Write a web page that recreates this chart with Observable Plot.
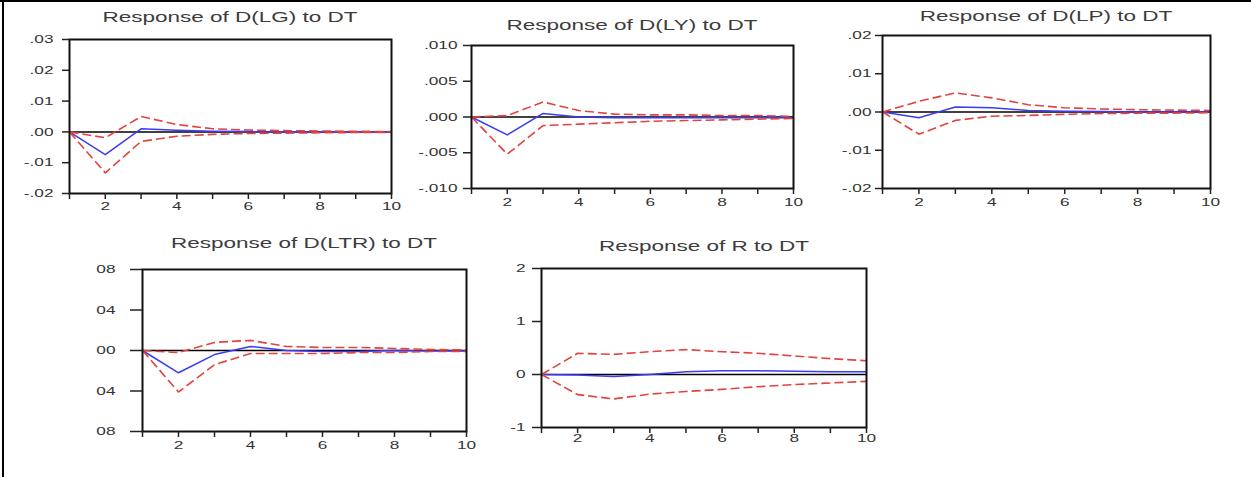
<!DOCTYPE html>
<html>
<head>
<meta charset="utf-8">
<script src="https://cdn.jsdelivr.net/npm/d3@7"></script>
<script src="https://cdn.jsdelivr.net/npm/@observablehq/plot@0.6"></script>
<style>
  body { margin: 0; background: #fff; }
  #page { position: relative; width: 1251px; height: 477px; overflow: hidden; background: #fff; }
  .title {
    position: absolute; white-space: nowrap;
    font-family: "Liberation Sans", Arial, sans-serif; font-size: 15px; line-height: 15px;
    color: #3c3c3c;
    transform: translateX(-50%) scaleX(1.5);
  }
  .holder { position: absolute; }
  .border-top { position: absolute; left: 0; top: 0; width: 1251px; height: 2px; background: #000; }
  .border-left { position: absolute; left: 2px; top: 0; width: 2px; height: 477px; background: #000; }
</style>
</head>
<body>
<div id="page">
  <div class="border-top"></div>
  <div class="border-left"></div>
</div>
<script>
// Impulse responses to a DT shock, periods 1-10, with ±2 S.E. bands
const periods = [1, 2, 3, 4, 5, 6, 7, 8, 9, 10];
const evenPeriods = [2, 4, 6, 8, 10];

const lgResp  = [0, -0.0074, 0.0010, 0.0005, 0.0002, 0.0001, 0.0000, 0.0000, 0.0000, 0.0000];
const lgUpper = [0, -0.0019, 0.0050, 0.0024, 0.0010, 0.0006, 0.0004, 0.0003, 0.0002, 0.0001];
const lgLower = [0, -0.0133, -0.0031, -0.0014, -0.0008, -0.0005, -0.0004, -0.0003, -0.0002, -0.0002];

const lyResp  = [0, -0.0025, 0.0005, 0.0000, -0.0001, -0.0001, -0.0001, -0.0001, -0.0001, -0.0001];
const lyUpper = [0, 0.0002, 0.0021, 0.0009, 0.0004, 0.0003, 0.0003, 0.0002, 0.0002, 0.0001];
const lyLower = [0, -0.0052, -0.0012, -0.0010, -0.0008, -0.0006, -0.0005, -0.0004, -0.0003, -0.0002];

const lpResp  = [0, -0.0015, 0.0013, 0.0011, 0.0004, 0.0002, 0.0001, 0.0000, 0.0000, 0.0000];
const lpUpper = [0, 0.0028, 0.0050, 0.0037, 0.0019, 0.0011, 0.0008, 0.0006, 0.0005, 0.0004];
const lpLower = [0, -0.0058, -0.0022, -0.0011, -0.0009, -0.0006, -0.0004, -0.0003, -0.0003, -0.0002];

const ltrResp  = [0, -0.022, -0.004, 0.004, 0.000, -0.001, -0.001, 0.000, -0.0005, -0.0005];
const ltrUpper = [0, -0.002, 0.008, 0.010, 0.004, 0.003, 0.003, 0.002, 0.001, 0.0005];
const ltrLower = [0, -0.041, -0.014, -0.003, -0.003, -0.003, -0.002, -0.002, -0.001, -0.001];

const rResp  = [0, -0.01, -0.04, 0.00, 0.05, 0.07, 0.07, 0.06, 0.05, 0.05];
const rUpper = [0, 0.40, 0.38, 0.43, 0.47, 0.43, 0.40, 0.35, 0.30, 0.26];
const rLower = [0, -0.38, -0.46, -0.37, -0.32, -0.28, -0.23, -0.19, -0.16, -0.13];

// Y-axis ticks and their printed labels
const lgTicks  = [-0.02, -0.01, 0, 0.01, 0.02, 0.03];
const lgLabels = ["-.02", "-.01", ".00", ".01", ".02", ".03"];
const lyTicks  = [-0.010, -0.005, 0, 0.005, 0.010];
const lyLabels = ["-.010", "-.005", ".000", ".005", ".010"];
const lpTicks  = [-0.02, -0.01, 0, 0.01, 0.02];
const lpLabels = ["-.02", "-.01", ".00", ".01", ".02"];
const ltrTicks  = [-0.08, -0.04, 0, 0.04, 0.08];
const ltrLabels = ["08", "04", "00", "04", "08"];
const rTicks  = [-1, 0, 1, 2];
const rLabels = ["-1", "0", "1", "2"];

const titles = [
  "Response of D(LG) to DT",
  "Response of D(LY) to DT",
  "Response of D(LP) to DT",
  "Response of D(LTR) to DT",
  "Response of R to DT"
];

const FONT = '"Liberation Sans", Arial, sans-serif';
const RED = "#e2433f";
const BLUE = "#3b3bf2";
const STRETCH = 1.5;

const panels = [
  {title: titles[0], resp: lgResp, upper: lgUpper, lower: lgLower, domain: [-0.02, 0.03],
   ticks: lgTicks, labels: lgLabels, box: {L: 69, R: 391, T: 39, B: 193}, yTick: 7, yPad: 9, xPad: 8, titleTop: 9},
  {title: titles[1], resp: lyResp, upper: lyUpper, lower: lyLower, domain: [-0.01, 0.01],
   ticks: lyTicks, labels: lyLabels, box: {L: 471, R: 793, T: 45, B: 188}, yTick: 8, yPad: 6, xPad: 9, titleTop: 17},
  {title: titles[2], resp: lpResp, upper: lpUpper, lower: lpLower, domain: [-0.02, 0.02],
   ticks: lpTicks, labels: lpLabels, box: {L: 882, R: 1210, T: 35, B: 188}, yTick: 7, yPad: 4, xPad: 9, titleTop: 8},
  {title: titles[3], resp: ltrResp, upper: ltrUpper, lower: ltrLower, domain: [-0.08, 0.08],
   ticks: ltrTicks, labels: ltrLabels, box: {L: 142, R: 466, T: 269, B: 431}, yTick: 12, yPad: 15, xPad: 9, titleTop: 235},
  {title: titles[4], resp: rResp, upper: rUpper, lower: rLower, domain: [-1, 2],
   ticks: rTicks, labels: rLabels, box: {L: 541, R: 866, T: 268, B: 427}, yTick: 9, yPad: 7, xPad: 6, titleTop: 238}
];

const page = document.getElementById("page");

function drawPanel(p) {
  const mL = 70, mR = 20, mT = 12, mB = 28;
  const {L, R, T, B} = p.box;
  const labelOf = new Map(p.ticks.map((t, i) => [t, p.labels[i]]));
  const rows = periods.map((x, i) => ({x, resp: p.resp[i], upper: p.upper[i], lower: p.lower[i]}));

  const svg = Plot.plot({
    width: (R - L) + mL + mR,
    height: (B - T) + mT + mB,
    marginLeft: mL, marginRight: mR, marginTop: mT, marginBottom: mB,
    x: {domain: [1, 10]},
    y: {domain: p.domain},
    style: {fontFamily: FONT, fontSize: "11.5px", color: "#333", background: "transparent", overflow: "visible"},
    marks: [
      Plot.ruleY([0], {stroke: "#000", strokeWidth: 1.5}),
      Plot.lineY(rows, {x: "x", y: "resp", stroke: BLUE, strokeWidth: 1.5}),
      Plot.lineY(rows, {x: "x", y: "upper", stroke: RED, strokeWidth: 1.6, strokeDasharray: "9,4", strokeLinecap: "butt"}),
      Plot.lineY(rows, {x: "x", y: "lower", stroke: RED, strokeWidth: 1.6, strokeDasharray: "9,4", strokeLinecap: "butt"}),
      Plot.frame({stroke: "#111", strokeWidth: 2}),
      Plot.axisY(p.ticks, {label: null, tickSize: p.yTick, tickPadding: p.yPad, tickFormat: d => labelOf.get(d),
        stroke: "#222", strokeWidth: 1.5, fill: "#333"}),
      Plot.axisX(periods, {label: null, tickSize: 6, tickFormat: () => "", stroke: "#222", strokeWidth: 1.5}),
      Plot.axisX(evenPeriods, {label: null, tickSize: 0, tickPadding: p.xPad, tickFormat: d => String(d), fill: "#333"})
    ]
  });

  const holder = document.createElement("div");
  holder.className = "holder";
  holder.style.left = (L - mL) + "px";
  holder.style.top = (T - mT) + "px";
  holder.appendChild(svg);
  page.appendChild(holder);

  // widen the glyphs of every axis label about its own anchor point
  for (const t of svg.querySelectorAll("text")) {
    const tr = t.getAttribute("transform") || "";
    t.setAttribute("transform", `${tr} scale(${STRETCH},1)`);
  }

  const title = document.createElement("div");
  title.className = "title";
  title.textContent = p.title;
  title.style.left = ((L + R) / 2) + "px";
  title.style.top = p.titleTop + "px";
  page.appendChild(title);
}

panels.forEach(drawPanel);
</script>
</body>
</html>
